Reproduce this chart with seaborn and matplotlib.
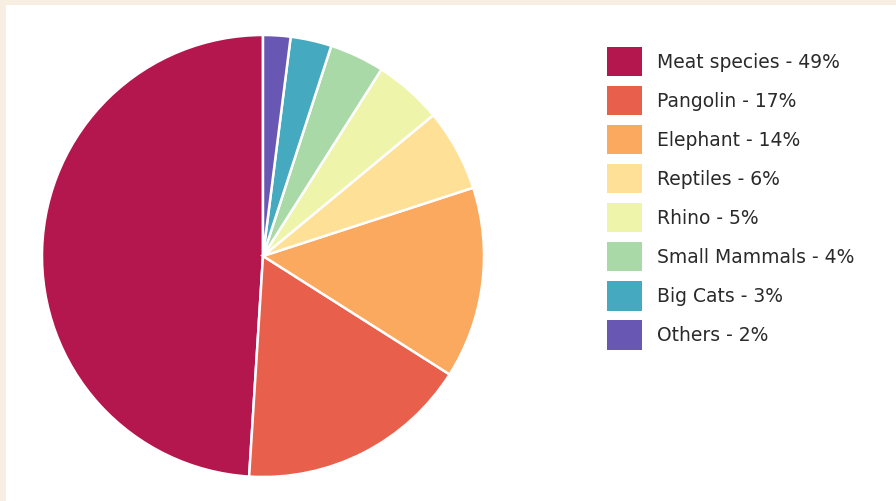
import matplotlib
matplotlib.use("Agg")
import matplotlib.pyplot as plt
from matplotlib.patches import Rectangle, Patch
import seaborn as sns

# Share of trafficked wildlife by category
categories = ["Meat species", "Pangolin", "Elephant", "Reptiles", "Rhino",
              "Small Mammals", "Big Cats", "Others"]
shares = [49, 17, 14, 6, 5, 4, 3, 2]
colors = ["#b3174d", "#e8604b", "#fba95f", "#fee096", "#eef5aa",
          "#a9d9a6", "#45a9c0", "#6857b3"]

sns.set_theme(style="white")
plt.rcParams["font.family"] = ["DejaVu Sans"]

fig = plt.figure(figsize=(8.96, 5.01), dpi=100, facecolor="#f8eee2")
# white card inside the beige frame
fig.patches.append(Rectangle((6 / 896, 0), 1, 1 - 5 / 501, transform=fig.transFigure,
                             facecolor="white", edgecolor="none", zorder=-1))

ax = fig.add_axes([42 / 896, 24 / 501, 442 / 896, 442 / 501])
ax.set_facecolor("none")
ax.pie(shares, colors=colors, startangle=90, counterclock=True, radius=1,
       wedgeprops=dict(edgecolor="white", linewidth=1.8))
ax.set_xlim(-1, 1)
ax.set_ylim(-1, 1)
ax.set_aspect("equal")
ax.axis("off")

labels = [f"{c} - {s}%" for c, s in zip(categories, shares)]
handles = [Patch(facecolor=c, edgecolor="none") for c in colors]
fs = 13.5
fig.legend(handles, labels, loc="upper left",
           bbox_to_anchor=(607 / 896, 1 - 47 / 501), bbox_transform=fig.transFigure,
           frameon=False, fontsize=fs, handlelength=1.88, handleheight=2.02,
           handletextpad=0.8, labelspacing=0.525, borderpad=0, borderaxespad=0,
           labelcolor="#2a2a2a")

fig.savefig("out.png", dpi=100, facecolor=fig.get_facecolor())
